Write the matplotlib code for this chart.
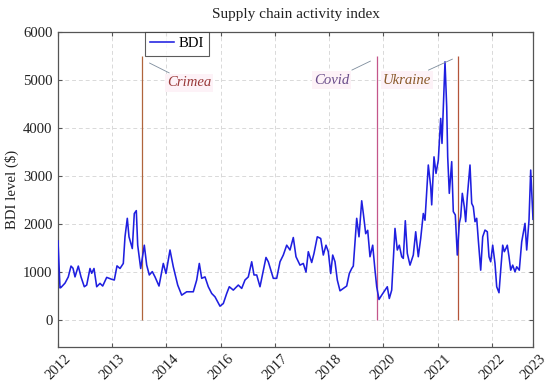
import matplotlib
matplotlib.use("Agg")
import matplotlib.pyplot as plt

plt.rcParams['font.family'] = ['Liberation Serif', 'DejaVu Serif']

# period index (x position on the axis) and BDI level values
period = [0, 2, 3, 7, 10.3, 13, 15, 17, 20.3, 23,
          26.3, 28.7, 32, 33.7, 36, 38.7, 42, 44.7, 48.7, 53.7,
          56.3, 59, 62, 65.3, 67, 69.3, 71, 74.3, 76.3, 78.3,
          79.7, 82.7, 86.3, 88.7, 91.3, 94.3, 97, 101, 105.3, 108,
          112, 115.3, 119.7, 123.7, 128.7, 135.3, 138.7, 141.3, 143.7, 147,
          150.3, 153.7, 157, 162, 165.3, 168.7, 171.3, 175.3, 180.3, 183.7,
          187, 190.3, 193.7, 196, 198.7, 202, 208, 210.3, 215.3, 218.7,
          222, 225.3, 228.7, 232, 235.3, 238, 242, 245.3, 248, 250.3,
          253.7, 256, 259.3, 262.7, 265.3, 268, 270.3, 272.7, 274.7, 277,
          279.3, 282, 285.3, 288.7, 291.3, 293.7, 295.3, 298.7, 301, 303.7,
          305.3, 307.7, 309.7, 312, 314.7, 317, 318.7, 321, 323.7, 327,
          329.3, 331.3, 333.7, 337, 339.3, 341.3, 343.7, 345.3, 347.3, 349.3,
          352, 355.3, 357.7, 360.3, 362.7, 365.3, 367, 370.3, 372.7, 373.7,
          376, 378, 380.3, 382.7, 384, 385.3, 387, 388.7, 389.7, 391.3,
          393.7, 395.3, 397.3, 399.3, 401.3, 402.7, 404.3, 406.3, 407.7, 409.3,
          412, 413.7, 415.3, 417, 418.7, 420.3, 422.7, 424.7, 427, 429.3,
          431, 432.7, 434.7, 437, 438.7, 441, 442.7, 444.7, 446.3, 448,
          449.3, 451, 452.7, 454.7, 457, 458.7, 461.3, 463.7, 467, 468.7,
          471, 472.7, 475]

bdi = [1650, 670, 680, 770, 900, 1125, 1080, 900, 1125, 900,
       695, 730, 1075, 975, 1075, 695, 765, 710, 890, 850,
       835, 1130, 1075, 1180, 1735, 2120, 1735, 1490, 2220, 2280,
       1560, 1075, 1560, 1145, 940, 1010, 900, 710, 1180, 970,
       1460, 1110, 730, 520, 590, 590, 835, 1180, 870, 900,
       695, 555, 485, 290, 345, 555, 695, 625, 730, 660,
       835, 900, 1215, 940, 940, 695, 1305, 1215, 870, 870,
       1215, 1355, 1560, 1460, 1720, 1320, 1145, 1180, 1000, 1425,
       1200, 1390, 1735, 1700, 1355, 1560, 1425, 970, 1355, 1215,
       835, 610, 660, 710, 970, 1075, 1125, 2120, 1735, 2485,
       2225, 1800, 1870, 1320, 1560, 1040, 695, 430, 520, 625,
       695, 450, 625, 1910, 1460, 1560, 1320, 1285, 2070, 1390,
       1145, 1355, 1840, 1320, 1700, 2220, 2080, 3230, 2780, 2400,
       3400, 3055, 3330, 4200, 3680, 4440, 5380, 4440, 3400, 2640,
       3300, 2260, 2190, 1355, 2015, 2150, 2640, 2360, 2050, 2570,
       3230, 2430, 2360, 2050, 2120, 1670, 1040, 1735, 1875, 1840,
       1320, 1215, 1560, 1180, 695, 570, 1040, 1560, 1425, 1495,
       1560, 1320, 1040, 1145, 1005, 1110, 1040, 1630, 2015, 1460,
       2080, 3125, 2100]

tick_pos = [0, 54, 108, 163, 217, 271, 325, 380, 434, 475]
tick_labels = ['2012', '2013', '2014', '2016', '2017', '2018', '2020', '2021', '2022', '2023']
y_ticks = [0, 1000, 2000, 3000, 4000, 5000, 6000]

events = ['Crimea', 'Covid', 'Ukraine']
event_pos = [84, 319, 400]
event_top = 5500

FS = 10.6

fig = plt.figure(figsize=(5.5, 3.84), dpi=100)
ax = fig.add_axes([58/550, 1-347/384, 475/550, 315/384])

ax.plot(period, bdi, color='#1f1fe0', lw=1.15, label='BDI', zorder=3)

line_colors = ['#b0653c', '#c4568a', '#b4553a']
text_colors = ['#9a3a3a', '#6a4d8a', '#8a5a2a']
for name, xp, lc in zip(events, event_pos, line_colors):
    ax.vlines(xp, 0, event_top, color=lc, lw=0.9, zorder=2)

box = dict(boxstyle='square,pad=0.15', fc='#fdf2f7', ec='none')
pin = dict(arrowstyle='-', color='#7d8c9c', lw=0.6)
ax.annotate('Crimea', xy=(89, 5380), xytext=(109, 4940), ha='left', va='center',
            fontsize=FS, style='italic', color=text_colors[0], bbox=box,
            arrowprops=pin, zorder=4)
ax.annotate('Covid', xy=(315, 5420), xytext=(291, 5000), ha='right', va='center',
            fontsize=FS, style='italic', color=text_colors[1], bbox=box,
            arrowprops=pin, zorder=4)
ax.annotate('Ukraine', xy=(397, 5460), xytext=(373, 5000), ha='right', va='center',
            fontsize=FS, style='italic', color=text_colors[2], bbox=box,
            arrowprops=pin, zorder=4)

ax.set_xlim(0, 475)
ax.set_ylim(-560, 6000)
ax.set_xticks(tick_pos)
ax.set_xticklabels(tick_labels, rotation=45, ha='center', fontsize=FS, color='#222222')
ax.set_yticks(y_ticks)
ax.set_yticklabels([str(v) for v in y_ticks], fontsize=FS, color='#222222')
ax.tick_params(direction='in', length=3, top=True, right=True, color='#555555', pad=4)
ax.grid(True, ls=(0, (4, 3)), color='#d9d9d9', lw=0.7)
ax.set_axisbelow(True)
for s in ax.spines.values():
    s.set_color('#555555')
    s.set_linewidth(0.9)

ax.set_ylabel('BDI level ($)', fontsize=FS, labelpad=3, color='#222222')
ax.set_title('Supply chain activity index', fontsize=FS + 0.4, pad=10, color='#222222')

leg = ax.legend(loc='upper left', bbox_to_anchor=(0.183, 1.0), fontsize=FS,
                frameon=True, fancybox=False, handlelength=1.6, handletextpad=0.35,
                borderpad=0.35, borderaxespad=0.0)
leg.get_frame().set_edgecolor('#333333')
leg.get_frame().set_linewidth(0.8)

fig.savefig('out.png', dpi=100)
